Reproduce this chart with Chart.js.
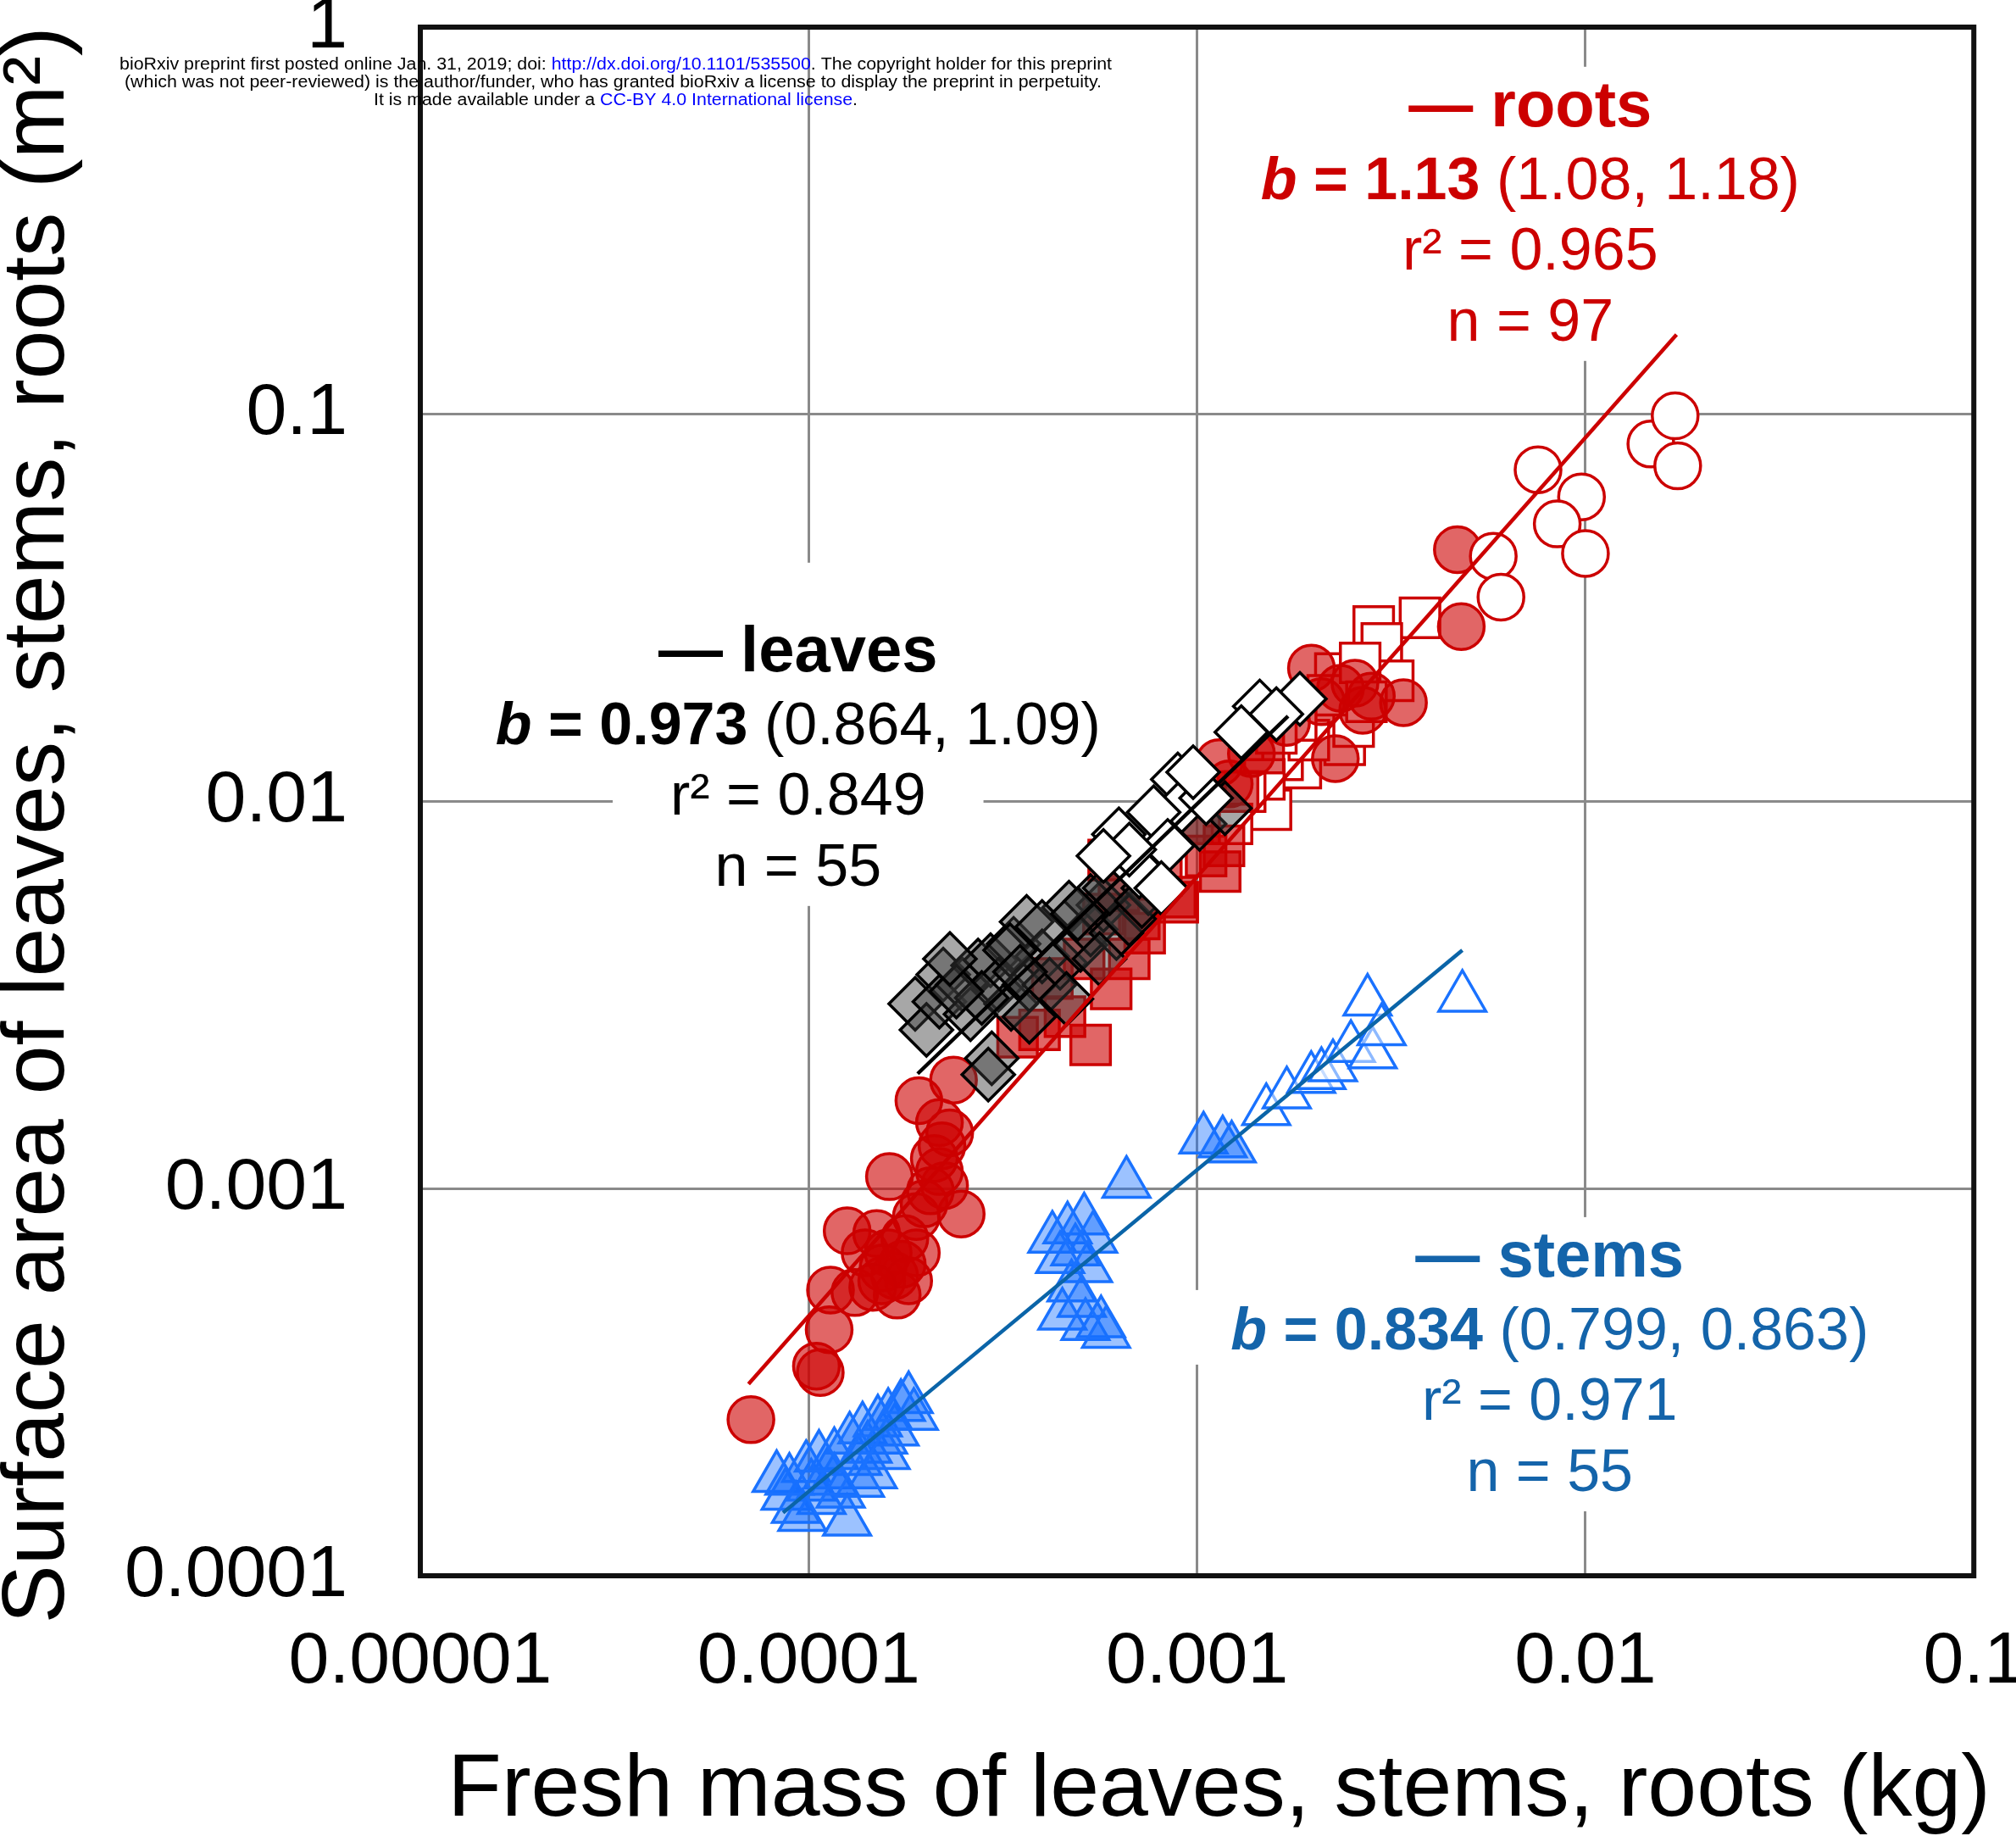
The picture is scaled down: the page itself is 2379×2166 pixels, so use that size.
<!DOCTYPE html>
<html><head><meta charset="utf-8">
<script src="https://cdn.jsdelivr.net/npm/chart.js@4.4.1/dist/chart.umd.min.js"></script>
<style>
html,body{margin:0;padding:0;background:#fff;overflow:hidden;}
#wrap{position:relative;width:2379px;height:2166px;overflow:hidden;background:#fff;}
canvas{position:absolute;left:0;top:-118px;}
</style></head><body>
<div id="wrap"><canvas id="c" width="2440" height="2284" style="width:2440px;height:2284px"></canvas></div>
<script>
// ---------- tick values / labels ----------
const xTickValues = [1e-5, 1e-4, 1e-3, 1e-2, 1e-1];
const xTickLabels = ['0.00001', '0.0001', '0.001', '0.01', '0.1'];
const yTickValues = [1e-4, 1e-3, 1e-2, 1e-1, 1];
const yTickLabels = ['0.0001', '0.001', '0.01', '0.1', '1'];
const xTitle = 'Fresh mass of leaves, stems, roots (kg)';
const yTitle = 'Surface area of leaves, stems, roots (m²)';

// ---------- roots (red) ----------
const rootsFilledCircles = [
  [7.10e-5, 2.53e-4], [1.047e-4, 3.48e-4], [1.071e-4, 3.35e-4], [1.129e-4, 4.32e-4],
  [1.138e-4, 5.47e-4], [1.315e-4, 5.39e-4], [1.256e-4, 7.78e-4], [1.496e-4, 7.66e-4],
  [1.602e-4, 6.83e-4], [1.664e-4, 5.96e-4], [1.690e-4, 5.31e-4], [1.893e-4, 8.47e-4],
  [1.893e-4, 6.83e-4], [1.614e-4, 1.074e-3], [2.238e-4, 1.018e-3], [2.470e-4, 8.60e-4],
  [2.204e-4, 1.290e-3], [2.171e-4, 1.481e-3], [1.922e-4, 1.687e-3], [2.360e-4, 1.907e-3],
  [1.741e-4, 6.38e-4], [1.397e-4, 6.83e-4], [1.542e-4, 5.78e-4], [2.171e-4, 1.107e-3],
  [1.768e-4, 7.43e-4], [1.982e-4, 9.14e-4], [1.554e-4, 6.24e-4], [2.106e-4, 1.196e-3],
  [2.307e-4, 1.393e-3], [1.809e-4, 5.78e-4], [1.462e-4, 5.56e-4], [2.058e-4, 9.87e-4],
  [4.68e-3, 4.47e-2], [4.79e-3, 2.83e-2], [1.97e-3, 2.21e-2], [2.55e-3, 2.02e-2],
  [3.40e-3, 1.80e-2], [2.81e-3, 1.87e-2], [2.27e-3, 1.29e-2], [1.70e-3, 1.60e-2],
  [1.21e-3, 1.11e-2], [1.14e-3, 1.26e-2], [2.34e-3, 1.96e-2], [2.67e-3, 1.72e-2],
  [1.38e-3, 1.33e-2], [2.09e-3, 1.81e-2]
];
const rootsFilledSquares = [
  [5.32e-4, 2.35e-3], [6.01e-4, 3.28e-3], [3.45e-4, 2.46e-3], [7.33e-4, 4.57e-3],
  [8.92e-4, 5.49e-3], [5.92e-4, 7.06e-3], [1.173e-3, 7.68e-3], [1.147e-3, 6.59e-3],
  [8.79e-4, 5.66e-3], [6.29e-4, 5.88e-3], [7.10e-4, 4.97e-3], [4.57e-4, 2.78e-3],
  [4.24e-4, 3.49e-3], [5.12e-4, 3.92e-3], [6.69e-4, 3.92e-3], [8.09e-4, 6.44e-3],
  [1.055e-3, 7.23e-3], [1.275e-3, 1.06e-2], [1.015e-3, 8.75e-3], [3.93e-4, 2.57e-3],
  [5.74e-4, 5.12e-3], [1.485e-3, 1.334e-2]
];
const rootsOpenSquares = [
  [3.75e-3, 2.98e-2], [2.85e-3, 2.83e-2], [2.99e-3, 2.56e-2], [2.27e-3, 2.14e-2],
  [2.03e-3, 1.69e-2], [2.40e-3, 1.40e-2], [1.85e-3, 1.22e-2], [1.55e-3, 9.52e-3],
  [3.20e-3, 2.05e-2], [1.66e-3, 1.28e-2], [1.49e-3, 1.14e-2], [2.53e-3, 1.56e-2],
  [2.17e-3, 1.88e-2], [2.63e-3, 2.28e-2], [1.33e-3, 1.06e-2], [1.94e-3, 1.44e-2],
  [2.73e-3, 1.81e-2], [1.80e-3, 1.62e-2], [1.60e-3, 1.50e-2], [1.23e-3, 8.75e-3]
];
const rootsOpenCircles = [
  [7.55e-3, 7.19e-2], [9.77e-3, 6.12e-2], [8.46e-3, 5.21e-2], [1.0e-2, 4.37e-2],
  [1.474e-2, 8.38e-2], [1.702e-2, 9.91e-2], [1.728e-2, 7.36e-2], [5.79e-3, 4.30e-2],
  [6.06e-3, 3.37e-2]
];

// ---------- leaves (black/grey) ----------
const leavesFilled = [
  [1.88e-4, 3.00e-3], [2.01e-4, 2.57e-3], [2.22e-4, 3.57e-3], [2.17e-4, 3.04e-3],
  [2.49e-4, 3.36e-3], [2.73e-4, 3.77e-3], [2.61e-4, 2.82e-3], [2.94e-4, 3.89e-3],
  [3.08e-4, 3.36e-3], [3.37e-4, 4.29e-3], [3.32e-4, 3.00e-3], [3.64e-4, 4.89e-3],
  [3.70e-4, 3.36e-3], [3.99e-4, 3.98e-3], [4.17e-4, 3.36e-3], [4.44e-4, 3.83e-3],
  [4.68e-4, 5.32e-3], [5.01e-4, 4.26e-3], [5.32e-4, 4.67e-3], [5.74e-4, 5.40e-3],
  [6.20e-4, 4.57e-3], [6.69e-4, 4.97e-3], [4.61e-4, 3.09e-3], [2.96e-4, 2.17e-3],
  [2.90e-4, 1.97e-3], [3.30e-4, 4.13e-3], [5.61e-4, 3.92e-3], [3.70e-4, 2.78e-3],
  [2.79e-4, 3.11e-3], [2.40e-4, 3.23e-3], [2.31e-4, 3.92e-3], [5.32e-4, 5.53e-3],
  [5.96e-4, 5.97e-3], [7.49e-4, 5.97e-3], [1.015e-3, 8.75e-3], [1.18e-3, 9.60e-3],
  [7.21e-4, 5.53e-3], [3.99e-4, 4.74e-3], [3.50e-4, 3.63e-3], [4.93e-4, 5.12e-3]
];
const leavesOpen = [
  [1.84e-3, 1.84e-2], [1.45e-3, 1.76e-2], [1.30e-3, 1.51e-2], [8.92e-4, 1.14e-2],
  [9.13e-4, 9.74e-3], [7.73e-4, 9.38e-3], [6.29e-4, 8.23e-3], [7.10e-4, 6.59e-3],
  [8.40e-4, 7.68e-3], [8.09e-4, 5.97e-3], [6.69e-4, 7.51e-3], [1.055e-3, 1.02e-2],
  [1.60e-3, 1.68e-2], [9.77e-4, 1.19e-2], [5.74e-4, 7.23e-3]
];

// ---------- stems (blue) ----------
const stemsFilled = [
  [8.27e-5, 1.79e-4], [8.72e-5, 1.61e-4], [9.27e-5, 1.49e-4], [9.85e-5, 1.90e-4],
  [1.015e-4, 1.70e-4], [1.079e-4, 1.57e-4], [9.63e-5, 1.42e-4], [1.121e-4, 1.83e-4],
  [1.164e-4, 2.05e-4], [1.209e-4, 1.63e-4], [1.256e-4, 1.38e-4], [1.275e-4, 2.25e-4],
  [1.335e-4, 1.98e-4], [1.376e-4, 2.39e-4], [1.418e-4, 2.13e-4], [1.462e-4, 1.83e-4],
  [1.507e-4, 2.49e-4], [1.554e-4, 2.25e-4], [1.602e-4, 2.59e-4], [1.664e-4, 2.36e-4],
  [1.728e-4, 2.73e-4], [1.809e-4, 2.86e-4], [1.865e-4, 2.59e-4], [1.164e-4, 1.76e-4],
  [1.063e-4, 2.02e-4], [1.355e-4, 1.74e-4], [1.578e-4, 2.05e-4], [8.92e-5, 1.76e-4],
  [4.24e-4, 7.43e-4], [4.64e-4, 7.85e-4], [5.12e-4, 8.28e-4], [5.40e-4, 7.43e-4],
  [4.86e-4, 6.89e-4], [4.44e-4, 6.58e-4], [5.24e-4, 6.23e-4], [4.75e-4, 5.56e-4],
  [5.05e-4, 5.07e-4], [4.50e-4, 4.70e-4], [5.66e-4, 4.49e-4], [5.16e-4, 4.42e-4],
  [5.83e-4, 4.22e-4], [6.58e-4, 1.03e-3], [1.039e-3, 1.34e-3], [1.164e-3, 1.31e-3],
  [1.228e-3, 1.27e-3]
];
const stemsOpen = [
  [1.507e-3, 1.587e-3], [1.702e-3, 1.753e-3], [1.967e-3, 1.921e-3], [2.09e-3, 1.966e-3],
  [2.238e-3, 2.059e-3], [2.489e-3, 2.310e-3], [2.748e-3, 3.042e-3], [2.832e-3, 2.223e-3],
  [2.986e-3, 2.551e-3], [4.82e-3, 3.113e-3]
];

// ---------- fitted SMA lines (end points) ----------
const rootsFit = [[7.0e-5, 3.13e-4], [1.716e-2, 0.1606]];
const leavesFit = [[1.908e-4, 1.98e-3], [1.715e-3, 1.66e-2]];
const stemsFit = [[8.59e-5, 1.455e-4], [4.82e-3, 4.13e-3]];

// ---------- fit statistics text ----------
const fitNames = ['roots', 'leaves', 'stems'];
const fitSlopes = ['1.13', '0.973', '0.834'];
const fitCIs = ['(1.08, 1.18)', '(0.864, 1.09)', '(0.799, 0.863)'];
const fitR2 = ['0.965', '0.849', '0.971'];
const fitN = ['97', '55', '55'];
// anchors (data coordinates: centre x, first baseline y)
const labelAnchorX = [7.21e-3, 9.39e-5, 8.09e-3];
const labelAnchorY = [0.555, 2.17e-2, 5.93e-4];

const headerLines = [
  [['bioRxiv preprint first posted online Jan. 31, 2019; doi: ', '#000'], ['http://dx.doi.org/10.1101/535500', '#0000ff'], ['. The copyright holder for this preprint', '#000']],
  [['(which was not peer-reviewed) is the author/funder, who has granted bioRxiv a license to display the preprint in perpetuity.', '#000']],
  [['It is made available under a ', '#000'], ['CC-BY 4.0 International license', '#0000ff'], ['.', '#000']]
];

// ---------- styling ----------
const FONT = "'Liberation Sans', Arial, Helvetica, sans-serif";
const RED = '#cc0000';
const BLUE_LINE = '#0a64a8';
const BLUE_PT = '#1a72ff';
const labelColors = [RED, '#000000', '#1464aa'];
const labelExtraTop = [0, 58, 0];
const CANVAS_SHIFT = 118; // canvas is placed 118px above the page top

Chart.defaults.font.family = FONT;
const toXY = arr => arr.map(p => ({x: p[0], y: p[1]}));

function markers(label, data, style, radius, bg, border, order) {
  return {
    label, data: toXY(data), showLine: false, order,
    pointStyle: style, pointRadius: radius, pointHoverRadius: radius,
    pointBackgroundColor: bg, pointBorderColor: border, pointBorderWidth: 3.5,
    backgroundColor: bg, borderColor: border
  };
}
function fitLine(label, data, color) {
  return {label, data: toXY(data), showLine: true, pointRadius: 0, pointHoverRadius: 0,
    borderColor: color, borderWidth: 4.5, fill: false, order: 0};
}

const fitLabelPlugin = {
  id: 'fitLabels',
  beforeDatasetsDraw(chart) {
    const {ctx, scales: {x, y}} = chart;
    const spacing = [86, 83, 84];
    fitNames.forEach((name, k) => {
      const cx = x.getPixelForValue(labelAnchorX[k]);
      let by = y.getPixelForValue(labelAnchorY[k]);
      const lines = [
        [{t: '— ' + name, f: 'bold 76px'}],
        [{t: 'b', f: 'italic bold 70px'}, {t: ' = ' + fitSlopes[k], f: 'bold 70px'}, {t: ' ' + fitCIs[k], f: '70px'}],
        [{t: 'r² = ' + fitR2[k], f: '70px'}],
        [{t: 'n = ' + fitN[k], f: '70px'}]
      ];
      const baselines = [];
      lines.forEach((ln, i) => { baselines.push(by); by += spacing[i] || 84; });
      ctx.save();
      lines.forEach((ln, i) => {
        let w = 0;
        ln.forEach(s => { ctx.font = s.f + ' ' + FONT; w += ctx.measureText(s.t).width; });
        const top = baselines[i] - 70 - (i === 0 ? labelExtraTop[k] : 0);
        const bottom = baselines[i] + (i === lines.length - 1 ? 24 : 18);
        ctx.fillStyle = '#ffffff';
        ctx.fillRect(cx - w / 2 - 68, top, w + 136, bottom - top);
      });
      ctx.fillStyle = labelColors[k];
      ctx.textBaseline = 'alphabetic';
      ctx.textAlign = 'left';
      lines.forEach((ln, i) => {
        let w = 0;
        ln.forEach(s => { ctx.font = s.f + ' ' + FONT; w += ctx.measureText(s.t).width; });
        let xx = cx - w / 2;
        ln.forEach(s => {
          ctx.font = s.f + ' ' + FONT;
          ctx.fillText(s.t, xx, baselines[i]);
          xx += ctx.measureText(s.t).width;
        });
      });
      ctx.restore();
    });
  },
  afterDatasetsDraw(chart) {
    const {ctx, chartArea: a} = chart;
    ctx.save();
    ctx.strokeStyle = '#111';
    ctx.lineWidth = 6;
    ctx.strokeRect(a.left, a.top, a.right - a.left, a.bottom - a.top);
    ctx.restore();
  },
  afterDraw(chart) {
    const {ctx, chartArea: a} = chart;
    // axis titles
    ctx.save();
    ctx.fillStyle = '#000';
    ctx.font = '104px ' + FONT;
    ctx.textAlign = 'center';
    ctx.textBaseline = 'middle';
    ctx.fillText(xTitle, (a.left + a.right) / 2 + 26, chart.height - 53);
    ctx.translate(46, (a.top + a.bottom) / 2 + 28);
    ctx.rotate(-Math.PI / 2);
    ctx.fillText(yTitle, 0, 0);
    ctx.restore();
    // preprint header
    const spans = [[141, 1312], [147, 1300], [441, 1012]];
    const ys = [76, 97, 118];
    ctx.save();
    ctx.font = '20px ' + FONT;
    ctx.textBaseline = 'middle';
    ctx.textAlign = 'left';
    headerLines.forEach((segs, i) => {
      let w = 0;
      segs.forEach(s => { w += ctx.measureText(s[0]).width; });
      const sx = (spans[i][1] - spans[i][0]) / w;
      ctx.save();
      ctx.translate(spans[i][0], ys[i] + CANVAS_SHIFT);
      ctx.scale(sx, 1);
      let xx = 0;
      segs.forEach(s => { ctx.fillStyle = s[1]; ctx.fillText(s[0], xx, 0); xx += ctx.measureText(s[0]).width; });
      ctx.restore();
    });
    ctx.restore();
  }
};

new Chart(document.getElementById('c'), {
  type: 'scatter',
  data: {
    datasets: [
      fitLine('roots fit', rootsFit, RED),
      fitLine('leaves fit', leavesFit, '#000000'),
      fitLine('stems fit', stemsFit, BLUE_LINE),
      markers('leaves (open)', leavesOpen, 'rectRot', 31, '#ffffff', '#000000', 2),
      markers('leaves', leavesFilled, 'rectRot', 31, 'rgba(60,60,60,0.45)', '#000000', 3),
      markers('stems (open)', stemsOpen, 'triangle', 32, 'rgba(255,255,255,0.5)', BLUE_PT, 3),
      markers('stems', stemsFilled, 'triangle', 32, 'rgba(20,110,255,0.42)', BLUE_PT, 4),
      markers('roots (open circles)', rootsOpenCircles, 'circle', 27, '#ffffff', RED, 5),
      markers('roots (filled circles)', rootsFilledCircles, 'circle', 27, 'rgba(205,0,0,0.6)', RED, 6),
      markers('roots (filled squares)', rootsFilledSquares, 'rect', 33, 'rgba(205,0,0,0.6)', RED, 7),
      markers('roots (open squares)', rootsOpenSquares, 'rect', 33, '#ffffff', RED, 8)
    ]
  },
  options: {
    responsive: false,
    animation: false,
    devicePixelRatio: 1,
    events: [],
    layout: {padding: {top: 32 + CANVAS_SHIFT, right: 107, left: 0, bottom: 0}},
    plugins: {legend: {display: false}, tooltip: {enabled: false}},
    scales: {
      x: {
        type: 'logarithmic', min: 1e-5, max: 0.1,
        afterBuildTicks: s => { s.ticks = xTickValues.map(v => ({value: v})); },
        afterFit: s => { s.height = 307; },
        ticks: {
          autoSkip: false, maxRotation: 0, minRotation: 0, padding: 51, color: '#000',
          font: {size: 86, lineHeight: 1.2},
          callback: (v, i) => xTickLabels[i]
        },
        grid: {color: '#8a8a8a', lineWidth: 3, drawTicks: false},
        border: {display: false},
        title: {display: false, text: xTitle}
      },
      y: {
        type: 'logarithmic', min: 1e-4, max: 1,
        afterBuildTicks: s => { s.ticks = yTickValues.map(v => ({value: v})); },
        afterFit: s => { s.width = 496; },
        ticks: {
          autoSkip: false, padding: 86, color: '#000',
          font: {size: 86, lineHeight: 0.7},
          callback: (v, i) => yTickLabels[i]
        },
        grid: {color: '#8a8a8a', lineWidth: 3, drawTicks: false},
        border: {display: false},
        title: {display: false, text: yTitle}
      }
    }
  },
  plugins: [fitLabelPlugin]
});
</script></body></html>
